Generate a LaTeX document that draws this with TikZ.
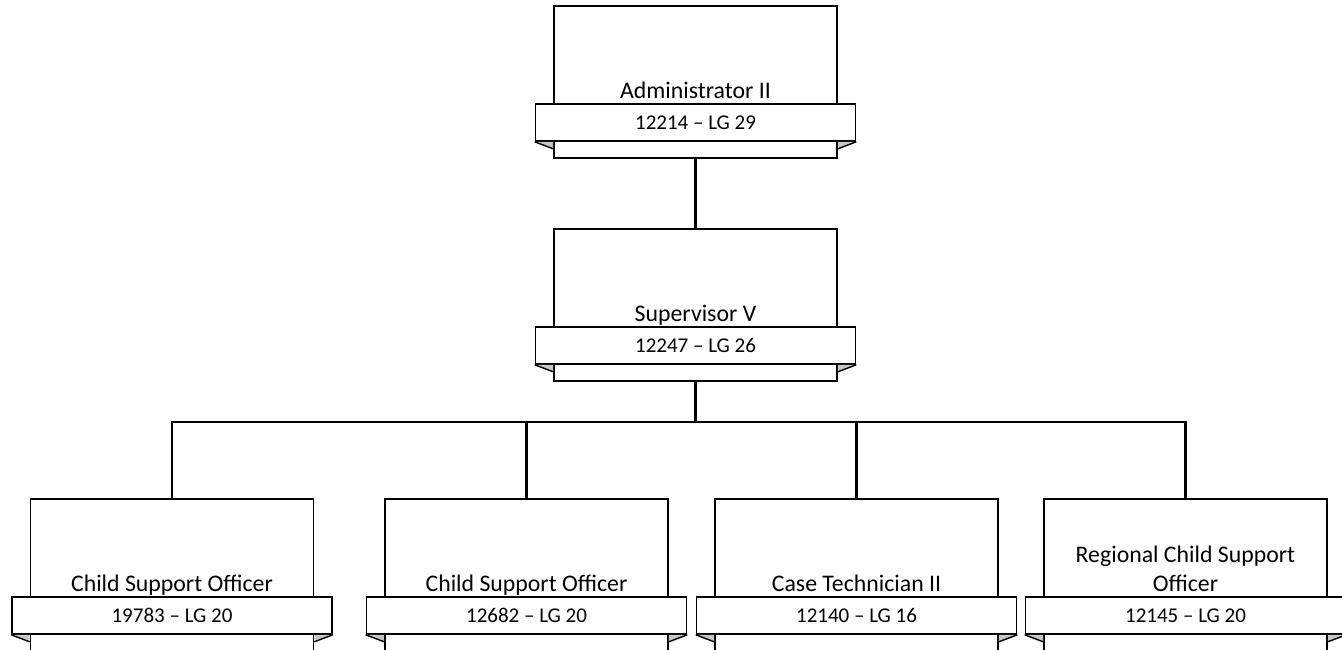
\documentclass[tikz,border=0pt]{standalone}
\usepackage{fontspec}
\setmainfont{Carlito}
\usetikzlibrary{calc}
\newcommand\orgbox[5]{%
  \node[body] (#1) at (#2,#3+76) {};
  \node[title] (#1-t) at (#2,#3+92) {#4};
  \node[banner] (#1-b) at (#2,#3+116.5) {#5};
  \coordinate (#1-fl) at ($(#1-b.south west -| #1.west)+(0,7)$);
  \coordinate (#1-fr) at ($(#1-b.south east -| #1.east)+(0,7)$);
  \fill[foldfill] (#1-b.south west) -- (#1-b.south west -| #1.west) -- (#1-fl) -- cycle;
  \fill[foldfill] (#1-b.south east) -- (#1-b.south east -| #1.east) -- (#1-fr) -- cycle;
  \draw[foldline] (#1-b.south west) -- (#1-fl);
  \draw[foldline] (#1-b.south east) -- (#1-fr);
}
\begin{document}
\begin{tikzpicture}[x=1pt,y=-1pt,
  body/.style={draw, line width=1.6pt, minimum width=283pt, minimum height=152pt, inner sep=0pt, fill=white},
  banner/.style={draw, line width=1.6pt, minimum width=320pt, minimum height=37pt, inner sep=0pt, fill=white, font=\fontsize{21}{25}\selectfont},
  title/.style={anchor=base, align=center, inner sep=0pt, font=\fontsize{23.8}{29}\selectfont},
  foldfill/.style={fill=gray!45},
  foldline/.style={line width=1.4pt},
  link/.style={line width=2.6pt}]
\useasboundingbox (0,0) rectangle (1342,649);
\fill[white] (0,0) rectangle (1342,649);

\orgbox{adm}{695.5}{6}{Administrator II}{12214 -- LG 29}
\orgbox{sup}{695.5}{229}{Supervisor V}{12247 -- LG 26}
\orgbox{c1}{172}{499}{Child Support Officer}{19783 -- LG 20}
\orgbox{c2}{526.5}{499}{Child Support Officer}{12682 -- LG 20}
\orgbox{c3}{856.5}{499}{Case Technician II}{12140 -- LG 16}
\orgbox{c4}{1185.5}{499}{Regional Child Support\\Officer}{12145 -- LG 20}

\coordinate (bus) at (695.5,422);
\draw[link] (adm.south) -- (sup.north);
\draw[link] (sup.south) -- (bus);
\draw[link] (c1.north) |- (bus) -| (c4.north);
\draw[link] (c2.north) -- (c2.north |- bus);
\draw[link] (c3.north) -- (c3.north |- bus);
\end{tikzpicture}
\end{document}
